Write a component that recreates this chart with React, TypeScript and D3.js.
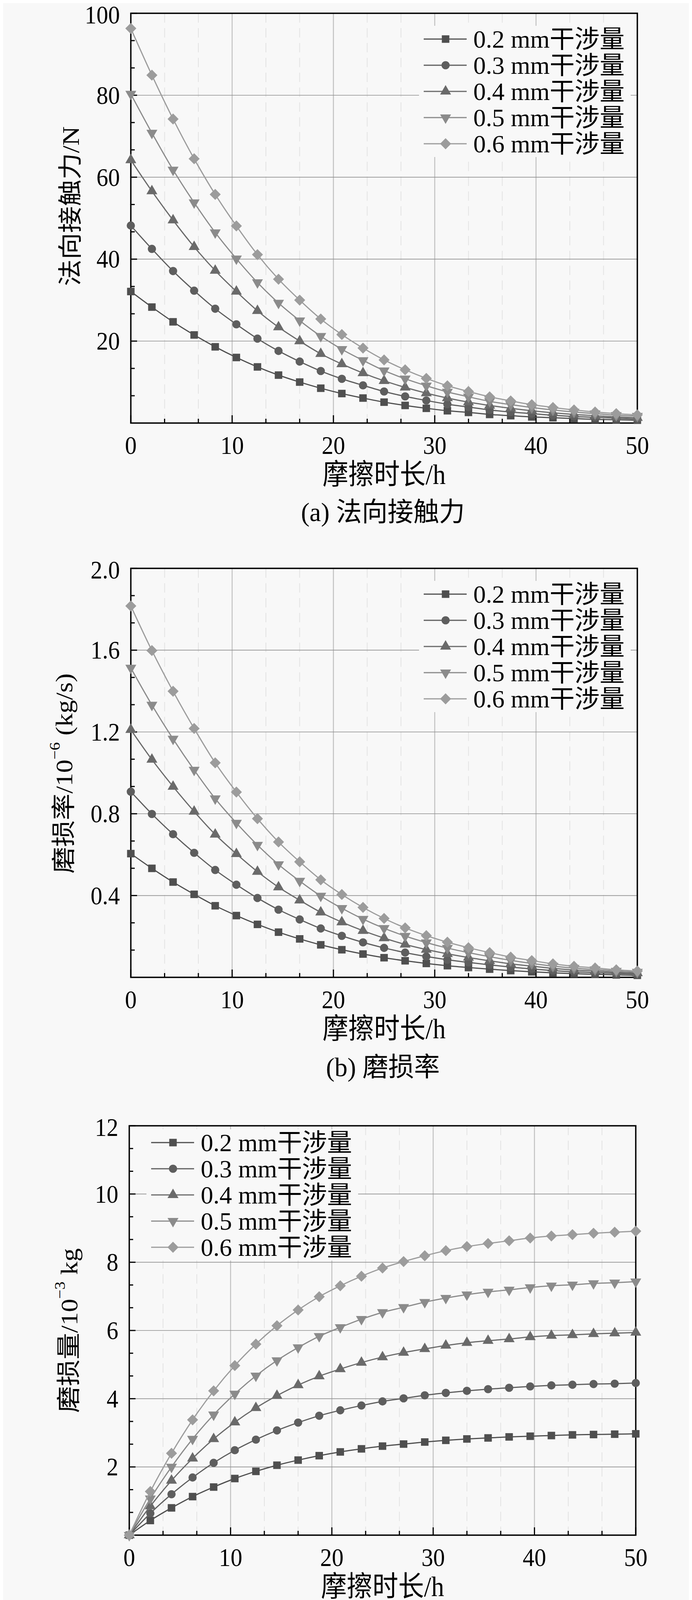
import React from "react";
import * as d3 from "d3";

// sampling times (h), 25 points from 0 to 50
const HOURS = [0, 2.08, 4.17, 6.25, 8.33, 10.42, 12.5, 14.58, 16.67, 18.75, 20.83, 22.92, 25, 27.08, 29.17, 31.25, 33.33, 35.42, 37.5, 39.58, 41.67, 43.75, 45.83, 47.92, 50];

const SERIES_LABELS = ["0.2 mm干涉量", "0.3 mm干涉量", "0.4 mm干涉量", "0.5 mm干涉量", "0.6 mm干涉量"];
const SERIES_COLORS = ["#4f4f4f", "#5e5e5e", "#6a6a6a", "#8b8b8b", "#9c9c9c"];
const SERIES_MARKERS = ["square", "circle", "triangle", "triangleDown", "diamond"];

// (a) normal contact force, N
const FORCE_02 = [32.1, 28.3, 24.7, 21.5, 18.6, 16.0, 13.7, 11.7, 10.0, 8.5, 7.2, 6.1, 5.1, 4.3, 3.6, 3.0, 2.6, 2.1, 1.8, 1.5, 1.3, 1.1, 0.9, 0.8, 0.7];
const FORCE_03 = [48.2, 42.5, 37.1, 32.3, 27.9, 24.1, 20.6, 17.6, 15.0, 12.7, 10.8, 9.2, 7.7, 6.5, 5.5, 4.6, 3.9, 3.2, 2.7, 2.3, 1.9, 1.6, 1.4, 1.2, 1.0];
const FORCE_04 = [64.2, 56.6, 49.5, 43.0, 37.2, 32.1, 27.4, 23.4, 20.0, 16.9, 14.4, 12.2, 10.3, 8.7, 7.3, 6.1, 5.1, 4.3, 3.6, 3.0, 2.5, 2.1, 1.8, 1.5, 1.3];
const FORCE_05 = [80.3, 70.8, 61.8, 53.8, 46.5, 40.1, 34.3, 29.3, 25.0, 21.2, 18.0, 15.3, 12.8, 10.8, 9.1, 7.6, 6.4, 5.3, 4.5, 3.8, 3.2, 2.7, 2.3, 1.9, 1.7];
const FORCE_06 = [96.3, 84.9, 74.2, 64.5, 55.8, 48.1, 41.1, 35.1, 30.0, 25.4, 21.6, 18.3, 15.4, 13.0, 10.9, 9.1, 7.7, 6.4, 5.4, 4.5, 3.8, 3.2, 2.7, 2.3, 2.0];

// (b) wear rate, 1e-6 kg/s
const RATE_02 = [0.605, 0.533, 0.466, 0.406, 0.350, 0.302, 0.259, 0.221, 0.188, 0.159, 0.135, 0.114, 0.096, 0.081, 0.068, 0.057, 0.048, 0.040, 0.033, 0.027, 0.022, 0.018, 0.015, 0.012, 0.010];
const RATE_03 = [0.908, 0.799, 0.700, 0.609, 0.525, 0.453, 0.388, 0.331, 0.283, 0.239, 0.203, 0.171, 0.144, 0.121, 0.102, 0.086, 0.073, 0.061, 0.050, 0.041, 0.033, 0.027, 0.023, 0.019, 0.016];
const RATE_04 = [1.211, 1.065, 0.933, 0.811, 0.699, 0.604, 0.517, 0.441, 0.377, 0.318, 0.270, 0.228, 0.192, 0.161, 0.136, 0.115, 0.097, 0.081, 0.066, 0.055, 0.044, 0.036, 0.031, 0.025, 0.021];
const RATE_05 = [1.513, 1.332, 1.166, 1.014, 0.874, 0.755, 0.647, 0.552, 0.471, 0.398, 0.338, 0.285, 0.240, 0.202, 0.170, 0.143, 0.121, 0.101, 0.083, 0.068, 0.055, 0.045, 0.038, 0.031, 0.026];
const RATE_06 = [1.816, 1.598, 1.399, 1.217, 1.049, 0.906, 0.776, 0.662, 0.565, 0.477, 0.405, 0.342, 0.288, 0.242, 0.204, 0.172, 0.145, 0.121, 0.099, 0.082, 0.066, 0.054, 0.046, 0.037, 0.031];

// (c) wear amount, 1e-3 kg
const WEAR_02 = [0, 0.43, 0.80, 1.13, 1.41, 1.66, 1.87, 2.05, 2.20, 2.33, 2.44, 2.53, 2.61, 2.67, 2.73, 2.78, 2.82, 2.85, 2.88, 2.90, 2.92, 2.94, 2.95, 2.96, 2.97];
const WEAR_03 = [0, 0.64, 1.20, 1.69, 2.12, 2.49, 2.80, 3.07, 3.30, 3.50, 3.66, 3.80, 3.92, 4.01, 4.10, 4.17, 4.23, 4.28, 4.32, 4.36, 4.39, 4.41, 4.43, 4.44, 4.46];
const WEAR_04 = [0, 0.85, 1.60, 2.25, 2.82, 3.31, 3.73, 4.09, 4.40, 4.66, 4.87, 5.06, 5.22, 5.35, 5.46, 5.56, 5.64, 5.70, 5.75, 5.81, 5.85, 5.87, 5.90, 5.92, 5.94];
const WEAR_05 = [0, 1.07, 2.00, 2.82, 3.53, 4.14, 4.67, 5.12, 5.50, 5.83, 6.09, 6.33, 6.53, 6.68, 6.83, 6.95, 7.05, 7.13, 7.19, 7.26, 7.31, 7.34, 7.38, 7.40, 7.43];
const WEAR_06 = [0, 1.28, 2.40, 3.38, 4.23, 4.97, 5.60, 6.14, 6.60, 6.99, 7.31, 7.59, 7.83, 8.02, 8.19, 8.34, 8.46, 8.55, 8.63, 8.71, 8.77, 8.81, 8.85, 8.88, 8.91];

const X_TICKS = [0, 10, 20, 30, 40, 50];
const Y_TICKS_FORCE = [20, 40, 60, 80, 100];
const Y_TICKS_RATE = [0.4, 0.8, 1.2, 1.6, 2.0];
const Y_TICKS_WEAR = [2, 4, 6, 8, 10, 12];

const BG = "#f8f8f8";
const FONT = "'Liberation Serif', 'Times New Roman', 'Noto Sans CJK SC', serif";
// the source figure is a little taller than wide, text too
const STRETCH = 1.1;

const markerPath = (kind: string) => {
  if (kind === "circle") return d3.symbol(d3.symbolCircle, 350)() || "";
  if (kind === "triangle" || kind === "triangleDown") return d3.symbol(d3.symbolTriangle, 340)() || "";
  return d3.symbol(d3.symbolSquare, kind === "diamond" ? 400 : 370)() || "";
};
const markerRot = (kind: string) => (kind === "triangleDown" ? 180 : kind === "diamond" ? 45 : 0);

type TProps = {
  x: number;
  y: number;
  size: number;
  anchor?: string;
  vertical?: boolean;
  stretch?: number;
  children: React.ReactNode;
};

const T = ({ x, y, size, anchor = "start", vertical = false, stretch = STRETCH, children }: TProps) => (
  <text
    transform={`translate(${x},${y}) scale(1,${stretch})${vertical ? " rotate(-90)" : ""}`}
    textAnchor={anchor}
    dominantBaseline="central"
    fontSize={size}
  >
    {children}
  </text>
);

type Box = { left: number; right: number; top: number; bottom: number };

type PanelProps = {
  box: Box;
  yMax: number;
  yTicks: number[];
  yFmt: (v: number) => string;
  series: number[][];
  yTitle: React.ReactNode;
  yTitlePos: [number, number];
  caption: string;
  captionDy: number;
  legendX: number;
  legendY: number;
};

const Panel = ({ box, yMax, yTicks, yFmt, series, yTitle, yTitlePos, caption, captionDy, legendX, legendY }: PanelProps) => {
  const x = d3.scaleLinear().domain([0, 50]).range([box.left, box.right]);
  const y = d3.scaleLinear().domain([0, yMax]).range([box.bottom, box.top]);

  const xStep = X_TICKS[1] - X_TICKS[0];
  const yStep = yTicks[1] - yTicks[0];
  const xMinor = d3.range(0, 50.001, xStep / 3).filter((v, i) => i % 3 !== 0);
  const yMinor = d3.range(0, yMax + 1e-6, yStep / 3).filter((v, i) => i % 3 !== 0);

  const line = d3
    .line<number>()
    .x((_, i) => x(HOURS[i]))
    .y((d) => y(d))
    .curve(d3.curveMonotoneX);

  const cx = (box.left + box.right) / 2;

  return (
    <g>
      {/* minor vertical grid */}
      {xMinor.map((v) => (
        <line key={"xm" + v} x1={x(v)} x2={x(v)} y1={box.top} y2={box.bottom} stroke="#e3e3e3" strokeWidth={2} strokeDasharray="24,14" />
      ))}
      {/* major grid */}
      {X_TICKS.slice(1, -1).map((v) => (
        <line key={"xg" + v} x1={x(v)} x2={x(v)} y1={box.top} y2={box.bottom} stroke="#c2c2c2" strokeWidth={2.5} />
      ))}
      {yTicks.filter((v) => v < yMax).map((v) => (
        <line key={"yg" + v} x1={box.left} x2={box.right} y1={y(v)} y2={y(v)} stroke="#8e8e8e" strokeWidth={1.6} />
      ))}

      {/* legend background */}
      <rect x={legendX - 12} y={legendY - 34} width={542} height={336} fill={BG} />

      {/* frame + ticks */}
      <rect x={box.left} y={box.top} width={box.right - box.left} height={box.bottom - box.top} fill="none" stroke="#000" strokeWidth={3.5} />
      {X_TICKS.map((v) => (
        <line key={"xt" + v} x1={x(v)} x2={x(v)} y1={box.bottom} y2={box.bottom - 20} stroke="#000" strokeWidth={3} />
      ))}
      {xMinor.map((v) => (
        <line key={"xmt" + v} x1={x(v)} x2={x(v)} y1={box.bottom} y2={box.bottom - 11} stroke="#000" strokeWidth={3} />
      ))}
      {yTicks.map((v) => (
        <line key={"yt" + v} x1={box.left} x2={box.left + 16} y1={y(v)} y2={y(v)} stroke="#000" strokeWidth={3} />
      ))}
      {yMinor.map((v) => (
        <line key={"ymt" + v} x1={box.left} x2={box.left + 10} y1={y(v)} y2={y(v)} stroke="#000" strokeWidth={3} />
      ))}

      {/* tick labels */}
      {X_TICKS.map((v) => (
        <T key={"xl" + v} x={x(v)} y={box.bottom + 57} size={60} anchor="middle">
          {v}
        </T>
      ))}
      {yTicks.map((v) => (
        <T key={"yl" + v} x={box.left - 28} y={y(v) + (v === yMax ? 4 : 0)} size={60} anchor="end">
          {yFmt(v)}
        </T>
      ))}

      {/* axis titles */}
      <T x={cx} y={box.bottom + 131} size={66} anchor="middle">
        摩擦时长/h
      </T>
      <T x={cx - 3} y={box.bottom + captionDy} size={66} anchor="middle" stretch={1.04}>
        {caption}
      </T>
      <T x={yTitlePos[0]} y={yTitlePos[1]} size={62} anchor="middle" vertical>
        {yTitle}
      </T>

      {/* data */}
      {series.map((vals, s) => (
        <g key={"s" + s}>
          <path d={line(vals) || ""} fill="none" stroke={SERIES_COLORS[s]} strokeWidth={3} />
          {vals.map((v, i) => (
            <path
              key={i}
              d={markerPath(SERIES_MARKERS[s])}
              transform={`translate(${x(HOURS[i])},${y(v)}) rotate(${markerRot(SERIES_MARKERS[s])})`}
              fill={SERIES_COLORS[s]}
            />
          ))}
        </g>
      ))}

      {/* legend */}
      {SERIES_LABELS.map((label, s) => {
        const ly = legendY + s * 67;
        return (
          <g key={"lg" + s}>
            <line x1={legendX} x2={legendX + 110} y1={ly} y2={ly} stroke={SERIES_COLORS[s]} strokeWidth={3} />
            <path
              d={markerPath(SERIES_MARKERS[s])}
              transform={`translate(${legendX + 56},${ly}) rotate(${markerRot(SERIES_MARKERS[s])})`}
              fill={SERIES_COLORS[s]}
            />
            <T x={legendX + 127} y={ly} size={64} stretch={1}>
              {label}
            </T>
          </g>
        );
      })}
    </g>
  );
};

const Sup = ({ t }: { t: string }) => (
  <>
    <tspan dy={-24} fontSize={38}>{t}</tspan>
    <tspan dy={24} fontSize={62}>{"\u00a0"}</tspan>
  </>
);

export default function App() {
  const boxA = { left: 335, right: 1632, top: 34, bottom: 1083 };
  const boxB = { left: 335, right: 1632, top: 1455, bottom: 2502 };
  const boxC = { left: 331, right: 1628, top: 2882, bottom: 3930 };

  return (
    <svg
      width={1772}
      height={4203}
      style={{ display: "block", margin: "-8px 0 -8px -8px" }}
      fontFamily={FONT}
      fill="#000"
    >
      <rect width={1772} height={4203} fill={BG} />
      <Panel
        box={boxA}
        yMax={100}
        yTicks={Y_TICKS_FORCE}
        yFmt={d3.format("d")}
        series={[FORCE_02, FORCE_03, FORCE_04, FORCE_05, FORCE_06]}
        yTitle="法向接触力/N"
        yTitlePos={[181, 528]}
        caption="(a) 法向接触力"
        captionDy={228}
        legendX={1085}
        legendY={100}
      />
      <Panel
        box={boxB}
        yMax={2}
        yTicks={Y_TICKS_RATE}
        yFmt={d3.format(".1f")}
        series={[RATE_02, RATE_03, RATE_04, RATE_05, RATE_06]}
        yTitle={
          <>
            磨损率/10<Sup t="−6" />(kg/s)
          </>
        }
        yTitlePos={[164, 1980]}
        caption="(b) 磨损率"
        captionDy={230}
        legendX={1085}
        legendY={1521}
      />
      <Panel
        box={boxC}
        yMax={12}
        yTicks={Y_TICKS_WEAR}
        yFmt={d3.format("d")}
        series={[WEAR_02, WEAR_03, WEAR_04, WEAR_05, WEAR_06]}
        yTitle={
          <>
            磨损量/10<Sup t="−3" />kg
          </>
        }
        yTitlePos={[177, 3406]}
        caption="(c) 磨损量"
        captionDy={224}
        legendX={387}
        legendY={2925}
      />
    </svg>
  );
}
